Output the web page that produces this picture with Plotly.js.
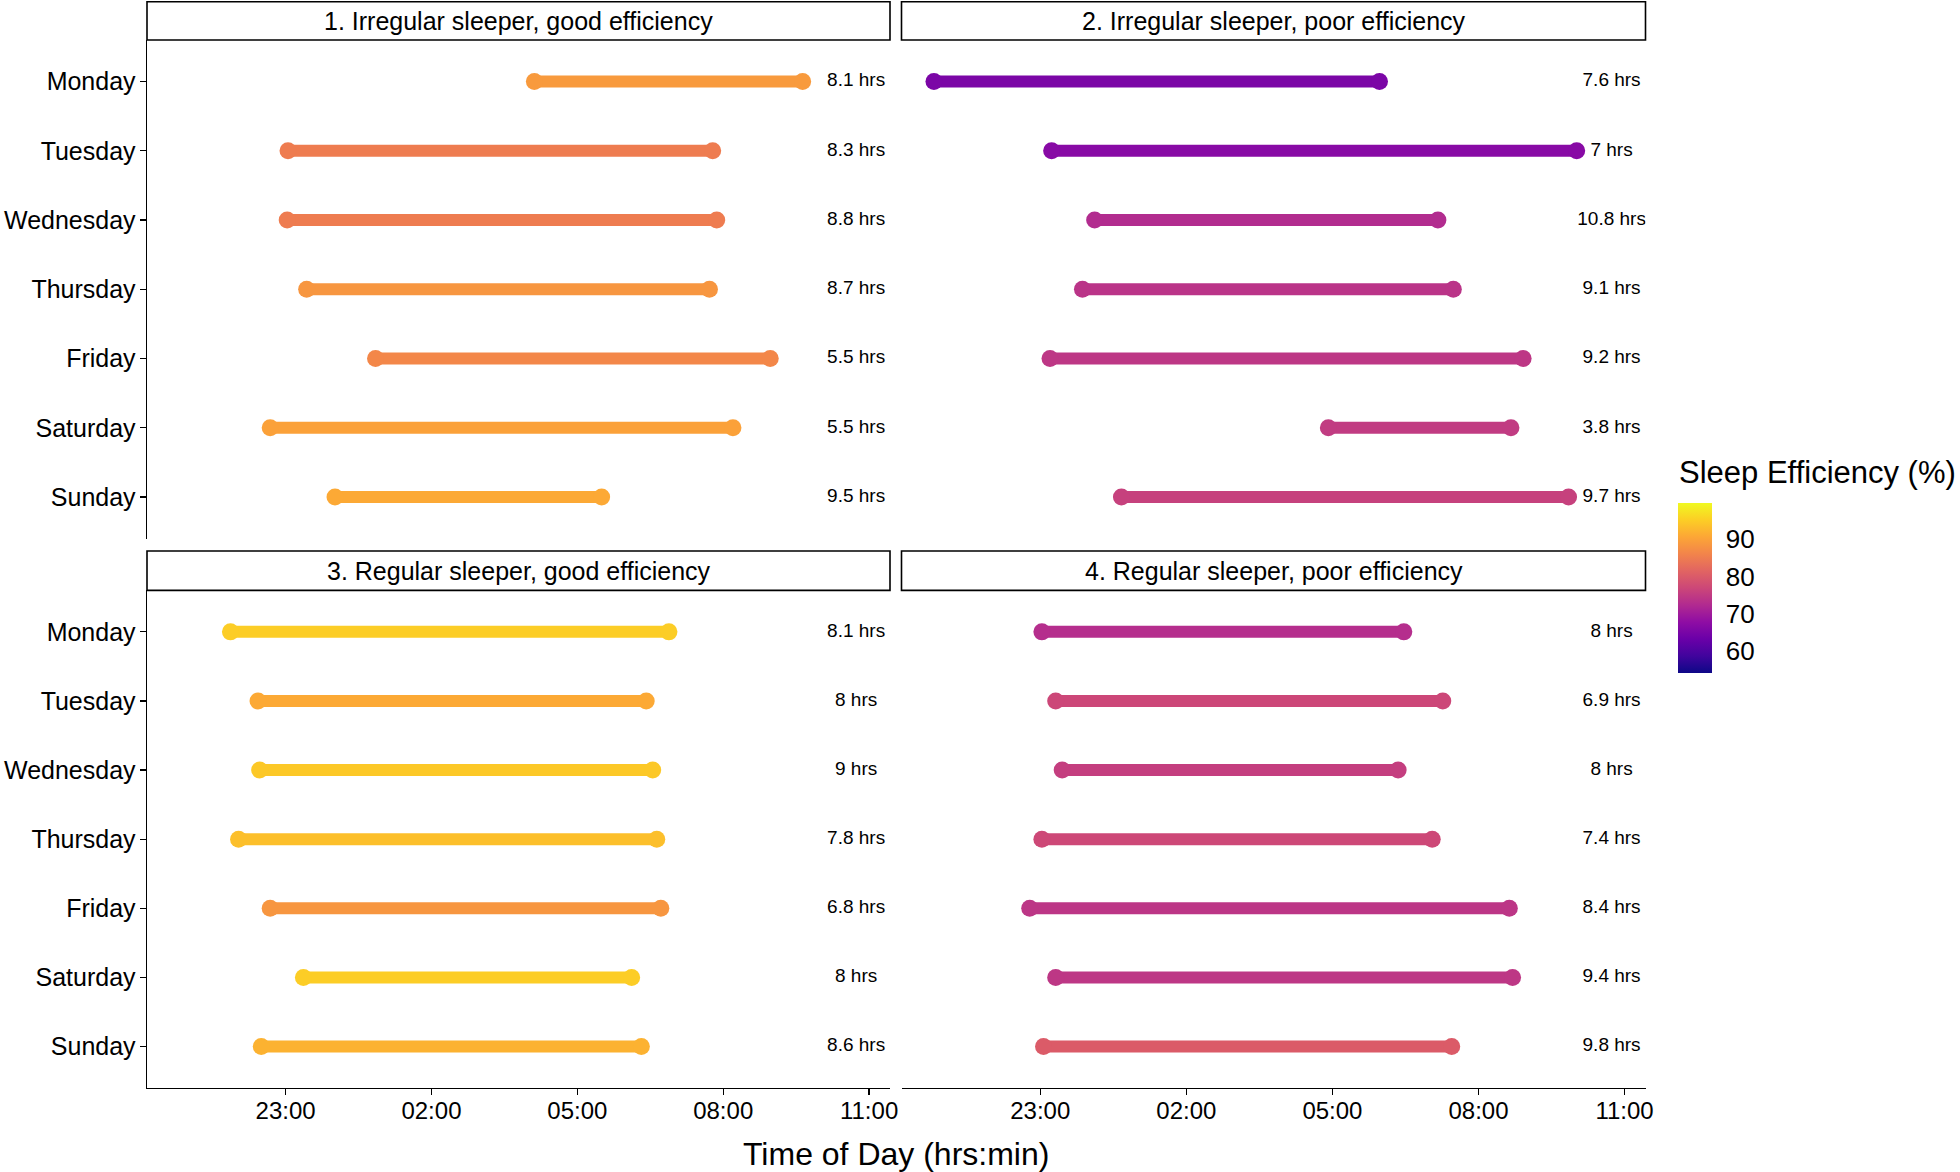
<!DOCTYPE html>
<html><head><meta charset="utf-8">
<script src="https://cdn.plot.ly/plotly-3.0.1.min.js"></script>
<style>html,body{margin:0;padding:0;background:#fff}#chart{width:1960px;height:1172px}</style>
</head><body><div id="chart"></div>
<script>
// ---------------- data ----------------
const days = ["Monday","Tuesday","Wednesday","Thursday","Friday","Saturday","Sunday"];
const panelTitles = ["1. Irregular sleeper, good efficiency","2. Irregular sleeper, poor efficiency","3. Regular sleeper, good efficiency","4. Regular sleeper, poor efficiency"];

const p1Start = ["04:07","23:03","23:02","23:26","00:51","22:41","00:01"];
const p1End   = ["09:38","07:47","07:52","07:43","08:58","08:12","05:30"];
const p1Eff   = [89, 85, 85, 88.5, 86.5, 90, 91];
const p1Hours = ["8.1 hrs","8.3 hrs","8.8 hrs","8.7 hrs","5.5 hrs","5.5 hrs","9.5 hrs"];

const p2Start = ["20:49","23:14","00:07","23:52","23:12","04:55","00:40"];
const p2End   = ["05:58","10:01","07:10","07:29","08:55","08:40","09:51"];
const p2Eff   = [65.5, 67, 72.7, 74, 74.5, 75.2, 76];
const p2Hours = ["7.6 hrs","7 hrs","10.8 hrs","9.1 hrs","9.2 hrs","3.8 hrs","9.7 hrs"];

const p3Start = ["21:52","22:26","22:28","22:02","22:41","23:22","22:30"];
const p3End   = ["06:53","06:25","06:33","06:38","06:43","06:07","06:19"];
const p3Eff   = [95, 91, 94.5, 93.5, 88.5, 95, 92];
const p3Hours = ["8.1 hrs","8 hrs","9 hrs","7.8 hrs","6.8 hrs","8 hrs","8.6 hrs"];

const p4Start = ["23:02","23:19","23:27","23:02","22:47","23:19","23:04"];
const p4End   = ["06:28","07:16","06:21","07:03","08:38","08:42","07:27"];
const p4Eff   = [73.1, 77, 75.6, 77.2, 74.3, 74.5, 80.2];
const p4Hours = ["8 hrs","6.9 hrs","8 hrs","7.4 hrs","8.4 hrs","9.4 hrs","9.8 hrs"];

const timeTicks = ["23:00","02:00","05:00","08:00","11:00"];
const effTicks = [60, 70, 80, 90];
const effRange = [54.3, 99.7];

// ---------------- helpers ----------------
const plasmaHex = ["#0d0887","#41049d","#6a00a8","#8f0da4","#b12a90","#cc4778","#e16462","#f2844b","#fca636","#fcce25","#f0f921"];
const plasmaScale = plasmaHex.map((c,i)=>[i/(plasmaHex.length-1), c]);
function hexToRgb(h){return [parseInt(h.slice(1,3),16),parseInt(h.slice(3,5),16),parseInt(h.slice(5,7),16)];}
function plasma(v){
  let t = (v-effRange[0])/(effRange[1]-effRange[0]);
  t = Math.max(0, Math.min(1, t));
  const n = plasmaHex.length-1;
  const k = Math.min(n-1, Math.floor(t*n));
  const f = t*n - k;
  const a = hexToRgb(plasmaHex[k]), b = hexToRgb(plasmaHex[k+1]);
  const c = a.map((x,i)=>Math.round(x+(b[i]-x)*f));
  return `rgb(${c[0]},${c[1]},${c[2]})`;
}
function toHours(s){
  const [h,m] = s.split(":").map(Number);
  let v = h + m/60;
  if (h < 12) v += 24;
  return v;
}

const FONT = "Liberation Sans, Arial, Helvetica, sans-serif";
const labelX = toHours("10:44");
const xRange = [20.15, 35.43];
const W = 1960, H = 1172;

// colorbar geometry (px)
const cbLeft = 1678, cbThick = 34, cbLen = 170, cbCenterY = 587.7;

const panels = [
  {start:p1Start, end:p1End, eff:p1Eff, hrs:p1Hours, xa:"x",  ya:"y"},
  {start:p2Start, end:p2End, eff:p2Eff, hrs:p2Hours, xa:"x2", ya:"y2"},
  {start:p3Start, end:p3End, eff:p3Eff, hrs:p3Hours, xa:"x3", ya:"y3"},
  {start:p4Start, end:p4End, eff:p4Eff, hrs:p4Hours, xa:"x4", ya:"y4"}
];

const traces = [];
panels.forEach((p, pi) => {
  days.forEach((d, i) => {
    traces.push({
      type:"scatter", mode:"lines",
      x:[toHours(p.start[i]), toHours(p.end[i])], y:[d, d],
      xaxis:p.xa, yaxis:p.ya,
      line:{color:plasma(p.eff[i]), width:12},
      hoverinfo:"skip", showlegend:false
    });
  });
  traces.push({
    type:"scatter", mode:"markers",
    x:p.start.map(toHours).concat(p.end.map(toHours)),
    y:days.concat(days),
    xaxis:p.xa, yaxis:p.ya,
    marker:{
      size:17, color:p.eff.concat(p.eff), colorscale:plasmaScale,
      cmin:effRange[0], cmax:effRange[1], showscale: pi===0,
      colorbar:{
        x:cbLeft/W, xanchor:"left", xpad:0, ypad:0,
        y:(H-cbCenterY)/H, yanchor:"middle",
        thickness:cbThick, thicknessmode:"pixels",
        len:cbLen, lenmode:"pixels",
        outlinewidth:0,
        tickvals:effTicks, ticktext:effTicks.map(String),
        ticks:"outside", ticklen:9, tickcolor:"rgba(0,0,0,0)", tickwidth:1,
        tickfont:{family:FONT, size:26, color:"#000"}
      },
      line:{width:0}
    },
    hoverinfo:"skip", showlegend:false
  });
  traces.push({
    type:"scatter", mode:"text",
    x:days.map(()=>labelX), y:days, text:p.hrs,
    xaxis:p.xa, yaxis:p.ya,
    textposition:"middle center",
    textfont:{family:FONT, size:19, color:"#000"},
    hoverinfo:"skip", showlegend:false
  });
});

const xL = [147/W, 890/W], xR = [901.5/W, 1645.5/W];
const yT = [(H-538.6)/H, (H-40)/H], yB = [(H-1088)/H, (H-590.4)/H];

function xaxisCfg(domain, anchor, show){
  return {
    domain, anchor, range:xRange, type:"linear",
    tickvals:timeTicks.map(toHours), ticktext:timeTicks,
    showgrid:false, zeroline:false,
    showline:show, linecolor:"#000", linewidth:1.4,
    ticks: show ? "outside" : "", ticklen:6, tickcolor:"#000", tickwidth:1.2,
    showticklabels:show, ticklabelstandoff:-5,
    tickfont:{family:FONT, size:24, color:"#000"}
  };
}
function yaxisCfg(domain, anchor, show){
  return {
    domain, anchor, type:"category", categoryorder:"array", categoryarray:days,
    range:[6.6, -0.6],
    showgrid:false, zeroline:false,
    showline:show, linecolor:"#000", linewidth:1.4,
    ticks: show ? "outside" : "", ticklen:6, tickcolor:"#000", tickwidth:1.2,
    showticklabels:show, ticklabelstandoff:-1,
    tickfont:{family:FONT, size:25, color:"#000"}
  };
}

const shapes = [], annotations = [];
const strips = [
  {x:xL, y:[(H-40)/H, (H-1.8)/H]},
  {x:xR, y:[(H-40)/H, (H-1.8)/H]},
  {x:xL, y:[(H-590.4)/H, (H-551)/H]},
  {x:xR, y:[(H-590.4)/H, (H-551)/H]}
];
strips.forEach((s, i) => {
  shapes.push({type:"rect", xref:"paper", yref:"paper", x0:s.x[0], x1:s.x[1], y0:s.y[0], y1:s.y[1],
    line:{color:"#000", width:1.6}, fillcolor:"#fff", layer:"above"});
  annotations.push({xref:"paper", yref:"paper", x:(s.x[0]+s.x[1])/2, y:(s.y[0]+s.y[1])/2,
    xanchor:"center", yanchor:"middle", showarrow:false, text:panelTitles[i],
    font:{family:FONT, size:25, color:"#000"}});
});
// white tick marks on colorbar edges (ggplot style)
effTicks.forEach(v => {
  const yPx = cbCenterY + cbLen/2 - (v-effRange[0])/(effRange[1]-effRange[0])*cbLen;
  const yp = (H-yPx)/H;
  shapes.push({type:"line", xref:"paper", yref:"paper", x0:cbLeft/W, x1:(cbLeft+6)/W, y0:yp, y1:yp, line:{color:"#fff", width:1}});
  shapes.push({type:"line", xref:"paper", yref:"paper", x0:(cbLeft+cbThick-6)/W, x1:(cbLeft+cbThick)/W, y0:yp, y1:yp, line:{color:"#fff", width:1}});
});
annotations.push({xref:"paper", yref:"paper", x:(147+1645.5)/2/W, y:(H-1154)/H,
  xanchor:"center", yanchor:"middle", showarrow:false, text:"Time of Day (hrs:min)",
  font:{family:FONT, size:32, color:"#000"}});
annotations.push({xref:"paper", yref:"paper", x:1677/W, y:(H-473)/H,
  xanchor:"left", yanchor:"middle", showarrow:false, text:"Sleep Efficiency (%)",
  font:{family:FONT, size:31, color:"#000"}});

const layout = {
  width:W, height:H,
  margin:{l:0, r:0, t:0, b:0, autoexpand:false},
  paper_bgcolor:"#fff", plot_bgcolor:"#fff",
  showlegend:false,
  xaxis: xaxisCfg(xL, "y", false),
  yaxis: yaxisCfg(yT, "x", true),
  xaxis2: xaxisCfg(xR, "y2", false),
  yaxis2: yaxisCfg(yT, "x2", false),
  xaxis3: xaxisCfg(xL, "y3", true),
  yaxis3: yaxisCfg(yB, "x3", true),
  xaxis4: xaxisCfg(xR, "y4", true),
  yaxis4: yaxisCfg(yB, "x4", false),
  shapes, annotations
};

Plotly.newPlot("chart", traces, layout, {displayModeBar:false, staticPlot:true});
</script>
</body></html>
